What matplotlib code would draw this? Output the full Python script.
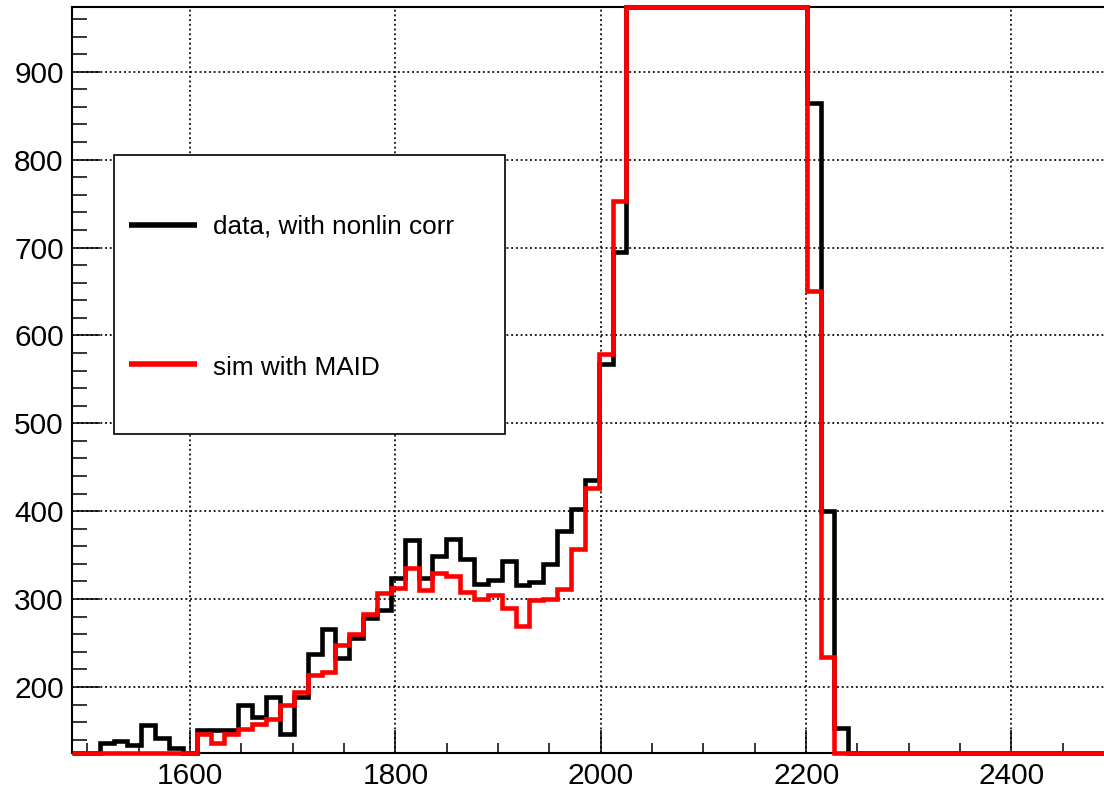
import numpy as np
import matplotlib
matplotlib.use("Agg")
import matplotlib.pyplot as plt
from matplotlib.lines import Line2D
from matplotlib.patches import Rectangle
from matplotlib.ticker import MultipleLocator, FixedLocator

plt.rcParams['font.family'] = ['Liberation Sans', 'DejaVu Sans']
plt.rcParams['lines.scale_dashes'] = False

# ---- histogram definition (uniform binning) ----
x_min = 1485.0
bin_width = 13.5
n_bins = 75

# ---- data: counts per bin ----
data_counts = [
    0, 0, 136, 139, 134, 157, 142, 130, 0,
    151, 151, 151, 180, 166, 189, 147, 189, 237, 266,
    233, 256, 279, 288, 324, 367, 324, 349, 368, 346,
    317, 322, 343, 316, 319, 340, 377, 403, 435, 568, 695,
    1180, 1650, 2120, 2480, 2710, 2830, 2870, 2840, 2750, 2580, 2310, 1920, 1410,
    864, 400, 153,
    0, 0, 0, 0, 0, 0, 0, 0, 0, 0, 0, 0, 0, 0, 0, 0, 0, 0, 0,
]
sim_counts = [
    0, 0, 0, 0, 0, 0, 0, 0, 0,
    147, 136, 147, 152, 158, 164, 180, 194, 214, 217,
    248, 260, 283, 307, 313, 335, 310, 330, 326, 308,
    300, 305, 290, 269, 299, 300, 312, 357, 426, 579, 753,
    1250, 1720, 2190, 2530, 2760, 2860, 2890, 2850, 2740, 2560, 2270, 1860, 1320,
    651, 234, 0,
    0, 0, 0, 0, 0, 0, 0, 0, 0, 0, 0, 0, 0, 0, 0, 0, 0, 0, 0,
]
series_labels = ["data, with nonlin corr", "sim with MAID"]
series_colors = ["black", "#ff0000"]

x_ticks = [1600, 1800, 2000, 2200, 2400]
y_ticks = [200, 300, 400, 500, 600, 700, 800, 900]
y_lo, y_hi = 124.5, 974.0

edges = x_min + bin_width * np.arange(n_bins + 1)
x_max = edges[-1]

fig = plt.figure(figsize=(11.04, 7.88), dpi=100)
ax = fig.add_axes([72 / 1104, (788 - 753.3) / 788, 1039.6 / 1104, (753.3 - 6.7) / 788])
ax.set_xlim(x_min, x_max)
ax.set_ylim(y_lo, y_hi)

for counts, col in zip([data_counts, sim_counts], series_colors):
    vals = np.clip(np.asarray(counts, dtype=float), y_lo, y_hi)
    ax.stairs(vals, edges, baseline=None, color=col, linewidth=3.3,
              clip_on=False, zorder=3, joinstyle='miter', capstyle='butt')

# axes / ticks
ax.xaxis.set_major_locator(FixedLocator(x_ticks))
ax.xaxis.set_minor_locator(MultipleLocator(50))
ax.yaxis.set_major_locator(FixedLocator(y_ticks))
ax.yaxis.set_minor_locator(MultipleLocator(20))
ax.tick_params(which='both', direction='in', top=False, right=False,
               labelsize=21.5, width=1.1, color='black')
ax.tick_params(axis='x', which='major', length=16.5, pad=6)
ax.tick_params(axis='x', which='minor', length=7.5)
ax.tick_params(axis='y', which='major', length=20, pad=6)
ax.tick_params(axis='y', which='minor', length=10.5)
for s in ax.spines.values():
    s.set_linewidth(1.5)
ax.spines['right'].set_visible(False)

ax.grid(True, which='major', color='black', linewidth=1.2,
        linestyle=(0, (1.4, 2.0)), zorder=1)
ax.set_axisbelow(True)

# legend box (ROOT TLegend style)
box = Rectangle((114 / 1104, 1 - 434 / 788), (505 - 114) / 1104, (434 - 155) / 788,
                transform=fig.transFigure, facecolor='white', edgecolor='black',
                linewidth=1.2, zorder=10)
fig.add_artist(box)
entries_y_line = [1 - 225 / 788, 1 - 364.3 / 788]
entries_y_text = [1 - 233.3 / 788, 1 - 375 / 788]
for lab, col, yl, yt in zip(series_labels, series_colors, entries_y_line, entries_y_text):
    fig.add_artist(Line2D([129.3 / 1104, 197.3 / 1104], [yl, yl], transform=fig.transFigure,
                          color=col, linewidth=4.0, solid_capstyle='butt', zorder=11))
    fig.text(212.7 / 1104, yt, lab, fontsize=18.8, va='baseline', ha='left', zorder=11)

fig.savefig("out.png", dpi=100)
